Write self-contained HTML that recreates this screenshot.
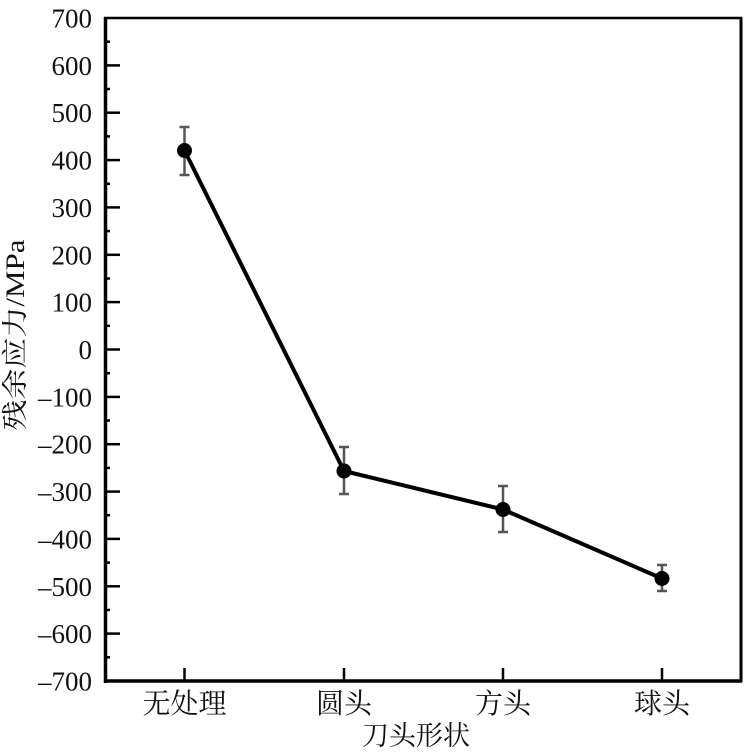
<!DOCTYPE html>
<html>
<head>
<meta charset="utf-8">
<style>
  html, body { margin:0; padding:0; background:#fff; }
  svg { display:block; }
</style>
</head>
<body>
<svg width="756" height="756" viewBox="0 0 756 756" xmlns="http://www.w3.org/2000/svg">
  <rect width="756" height="756" fill="#fff"/>

  <!-- frame -->
  <line x1="104" y1="18" x2="742" y2="18" stroke="#000" stroke-width="2.5"/>
  <line x1="741" y1="17" x2="741" y2="682" stroke="#000" stroke-width="3"/>
  <line x1="104" y1="681" x2="742" y2="681" stroke="#000" stroke-width="3.5"/>
  <line x1="105.5" y1="17" x2="105.5" y2="683" stroke="#000" stroke-width="3.5"/>

  <!-- y major ticks -->
  <g stroke="#000" stroke-width="2.5">
    <line x1="105" y1="65.4" x2="120" y2="65.4"/>
    <line x1="105" y1="112.7" x2="120" y2="112.7"/>
    <line x1="105" y1="160.1" x2="120" y2="160.1"/>
    <line x1="105" y1="207.4" x2="120" y2="207.4"/>
    <line x1="105" y1="254.8" x2="120" y2="254.8"/>
    <line x1="105" y1="302.1" x2="120" y2="302.1"/>
    <line x1="105" y1="349.5" x2="120" y2="349.5"/>
    <line x1="105" y1="396.9" x2="120" y2="396.9"/>
    <line x1="105" y1="444.2" x2="120" y2="444.2"/>
    <line x1="105" y1="491.6" x2="120" y2="491.6"/>
    <line x1="105" y1="538.9" x2="120" y2="538.9"/>
    <line x1="105" y1="586.3" x2="120" y2="586.3"/>
    <line x1="105" y1="633.6" x2="120" y2="633.6"/>
  </g>
  <!-- y minor ticks -->
  <g stroke="#000" stroke-width="2.5">
    <line x1="105" y1="41.7" x2="110" y2="41.7"/>
    <line x1="105" y1="89.0" x2="110" y2="89.0"/>
    <line x1="105" y1="136.4" x2="110" y2="136.4"/>
    <line x1="105" y1="183.8" x2="110" y2="183.8"/>
    <line x1="105" y1="231.1" x2="110" y2="231.1"/>
    <line x1="105" y1="278.5" x2="110" y2="278.5"/>
    <line x1="105" y1="325.8" x2="110" y2="325.8"/>
    <line x1="105" y1="373.2" x2="110" y2="373.2"/>
    <line x1="105" y1="420.5" x2="110" y2="420.5"/>
    <line x1="105" y1="467.9" x2="110" y2="467.9"/>
    <line x1="105" y1="515.2" x2="110" y2="515.2"/>
    <line x1="105" y1="562.6" x2="110" y2="562.6"/>
    <line x1="105" y1="610.0" x2="110" y2="610.0"/>
    <line x1="105" y1="657.3" x2="110" y2="657.3"/>
  </g>

  <!-- x ticks -->
  <g stroke="#000" stroke-width="2.5">
    <line x1="184.5" y1="681" x2="184.5" y2="668"/>
    <line x1="344" y1="681" x2="344" y2="668"/>
    <line x1="503" y1="681" x2="503" y2="668"/>
    <line x1="662" y1="681" x2="662" y2="668"/>
  </g>

  <!-- y tick labels -->
  <g font-family="'Liberation Serif', serif" font-size="27" fill="#111" text-anchor="end" style="font-family:'Liberation Serif', serif">
    <text x="92" y="27.5">700</text>
    <text x="92" y="74.9">600</text>
    <text x="92" y="122.2">500</text>
    <text x="92" y="169.6">400</text>
    <text x="92" y="216.9">300</text>
    <text x="92" y="264.3">200</text>
    <text x="92" y="311.6">100</text>
    <text x="92" y="359">0</text>
    <text x="92" y="406.4">–100</text>
    <text x="92" y="453.7">–200</text>
    <text x="92" y="501.1">–300</text>
    <text x="92" y="548.4">–400</text>
    <text x="92" y="595.8">–500</text>
    <text x="92" y="643.1">–600</text>
    <text x="92" y="690.5">–700</text>
  </g>

  <!-- x tick labels -->
  <g font-size="28" fill="#111" text-anchor="middle" style="font-family:'Liberation Serif','Noto Serif CJK SC',serif">
    <text x="184.5" y="713">无处理</text>
    <text x="344" y="713">圆头</text>
    <text x="503" y="713">方头</text>
    <text x="662" y="713">球头</text>
  </g>

  <!-- axis titles -->
  <text font-size="27" fill="#111" text-anchor="middle" x="416" y="745" style="font-family:'Liberation Serif','Noto Serif CJK SC',serif">刀头形状</text>
  <text font-size="31" fill="#111" text-anchor="middle" transform="translate(24,335) rotate(-90) scale(1,0.85)" style="font-family:'Liberation Serif','Noto Serif CJK SC',serif">残余应力/MPa</text>

  <!-- error bars -->
  <g stroke="#555" stroke-width="2.5">
    <line x1="184.5" y1="127" x2="184.5" y2="175"/>
    <line x1="179.5" y1="127" x2="189.5" y2="127"/>
    <line x1="179.5" y1="175" x2="189.5" y2="175"/>

    <line x1="344" y1="447" x2="344" y2="494"/>
    <line x1="339" y1="447" x2="349" y2="447"/>
    <line x1="339" y1="494" x2="349" y2="494"/>

    <line x1="503" y1="486" x2="503" y2="532"/>
    <line x1="498" y1="486" x2="508" y2="486"/>
    <line x1="498" y1="532" x2="508" y2="532"/>

    <line x1="662" y1="565" x2="662" y2="591"/>
    <line x1="657" y1="565" x2="667" y2="565"/>
    <line x1="657" y1="591" x2="667" y2="591"/>
  </g>

  <!-- series line -->
  <polyline points="184.5,150.5 344,471 503,509.5 662,578.5" fill="none" stroke="#000" stroke-width="4" stroke-linejoin="round"/>

  <!-- markers -->
  <g fill="#000">
    <circle cx="184.5" cy="150.5" r="7.5"/>
    <circle cx="344" cy="471" r="7.5"/>
    <circle cx="503" cy="509.5" r="7.5"/>
    <circle cx="662" cy="578.5" r="7.5"/>
  </g>
</svg>
</body>
</html>
